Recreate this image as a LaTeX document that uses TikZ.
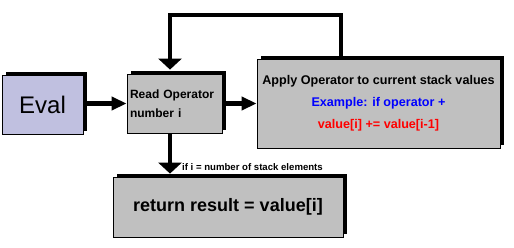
\documentclass[tikz,border=0pt]{standalone}
\usepackage{fontspec}
\setmainfont{Liberation Sans}
\usetikzlibrary{arrows.meta,shadows}
\definecolor{evalfill}{RGB}{192,192,224}
\definecolor{boxgray}{RGB}{192,192,192}
\begin{document}
\begin{tikzpicture}[x=1pt,y=-1pt,
  box/.style={draw=black,line width=0.8pt,fill=boxgray,inner sep=0pt,
    drop shadow={shadow xshift=3.5pt,shadow yshift=3.5pt,fill=black,opacity=1}},
  hflow/.style={line width=4.5pt,-{Triangle[length=15pt,width=13pt]}},
  vflow/.style={line width=4.5pt,-{Triangle[length=11pt,width=23pt]}}]
\useasboundingbox (0,0) rectangle (514,247);
\fill[white] (0,0) rectangle (514,247);
\node[box,fill=evalfill,minimum width=81pt,minimum height=59pt,
  font=\fontsize{24}{28}\selectfont] (eval) at (42.5,104.5) {Eval};
\node[box,minimum width=95pt,minimum height=59pt,
  font=\bfseries\fontsize{12}{19}\selectfont,align=left,text width=89pt] (read) at (174.5,103.5) {Read Operator\\number i};
\node[box,minimum width=243pt,minimum height=89pt,
  font=\bfseries\fontsize{12.6}{22}\selectfont,align=center] (apply) at (378.5,103.5)
  {Apply Operator to current stack values\\\textcolor{blue}{Example: if operator +}\\\textcolor{red}{value[i] += value[i-1]}};
\node[box,minimum width=230pt,minimum height=60pt,
  font=\bfseries\fontsize{18}{22}\selectfont] (ret) at (228,207) {return result = value[i]};
\coordinate (lr) at (341,15);
\coordinate (ll) at (170,15);
\draw[hflow] (eval.east |- read.west) -- (read.west);
\draw[hflow] (read.east) -- (apply.west);
\draw[vflow,shorten >=4pt] (apply.north -| lr) -- (lr) -- (ll) -- (read.north -| ll);
\draw[vflow,shorten >=3pt] (read.south -| ll) -- (ret.north -| ll);
\node[anchor=west,font=\bfseries\fontsize{9.6}{10}\selectfont,inner sep=0pt] (cond) at (182,167) {if i = number of stack elements};
\end{tikzpicture}
\end{document}
